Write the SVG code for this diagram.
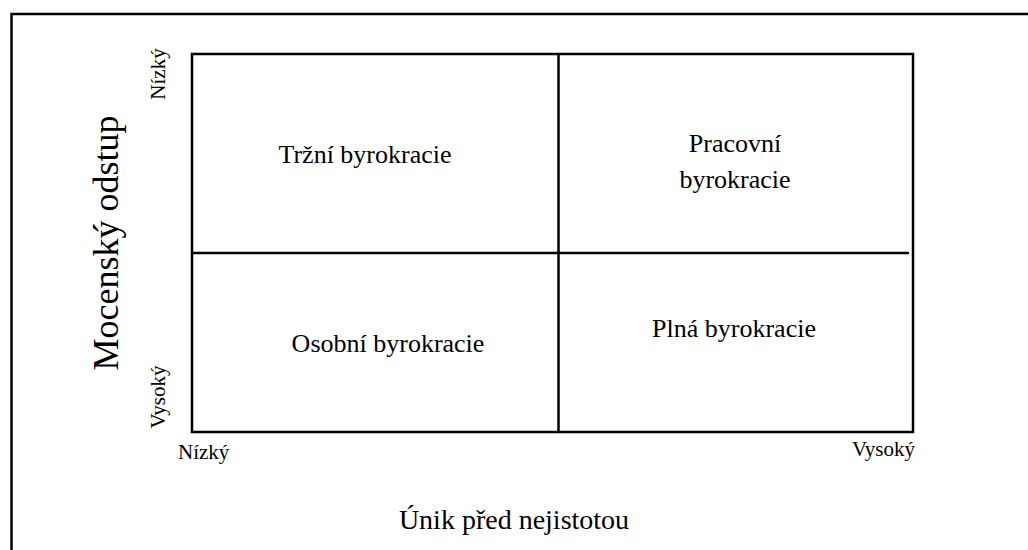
<svg xmlns="http://www.w3.org/2000/svg" width="1028" height="550" viewBox="0 0 1028 550">
<style>
.t{font-family:"Liberation Serif","Times New Roman",serif;fill:#000}
.q{font-size:26px;text-anchor:middle}
.ax{font-size:28px;text-anchor:middle}
.sm{font-size:21px}
.ln{stroke:#000;stroke-width:2.5;fill:none}
</style>
<rect width="1028" height="550" fill="#fff"/>
<path class="ln" d="M11.5 550 V14 H1028"/>
<g id="grid">
<rect class="ln" x="192" y="54" width="721" height="378"/>
<line class="ln" x1="558.5" y1="54" x2="558.5" y2="432"/>
<line class="ln" x1="192" y1="253" x2="909" y2="253"/>
</g>
<g id="q1"><text class="t q" x="365" y="163">Tržní byrokracie</text></g>
<g id="q2"><text class="t q" x="735" y="152">Pracovní</text><text class="t q" x="735" y="188">byrokracie</text></g>
<g id="q3"><text class="t q" x="388" y="352">Osobní byrokracie</text></g>
<g id="q4"><text class="t q" x="734" y="337">Plná byrokracie</text></g>
<g id="yaxis">
<text class="t" font-size="36" text-anchor="middle" transform="translate(118,243) rotate(-90)">Mocenský odstup</text>
<text class="t sm" text-anchor="middle" transform="translate(165,74) rotate(-90)">Nízký</text>
<text class="t sm" text-anchor="middle" transform="translate(165,397) rotate(-90)">Vysoký</text>
</g>
<g id="xaxis">
<text class="t ax" x="514" y="529">Únik před nejistotou</text>
<text class="t sm" x="178" y="459">Nízký</text>
<text class="t sm" x="915" y="456" text-anchor="end">Vysoký</text>
</g>
</svg>
